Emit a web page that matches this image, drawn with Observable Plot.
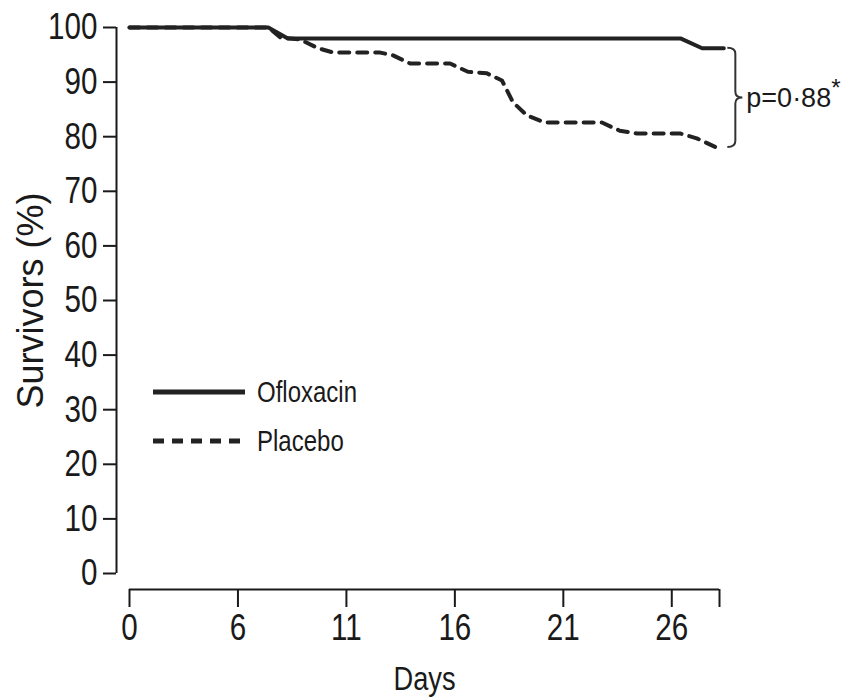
<!DOCTYPE html>
<html><head><meta charset="utf-8">
<script src="https://cdn.jsdelivr.net/npm/d3@7"></script>
<script src="https://cdn.jsdelivr.net/npm/@observablehq/plot@0.6"></script>
<style>
body{margin:0;background:#fff;}
#wrap{position:relative;width:843px;height:698px;overflow:hidden;}
.lg{position:absolute;font-family:'Liberation Sans',Arial,sans-serif;font-size:30px;color:#1a1a1a;line-height:1;transform:scaleX(0.8);transform-origin:0 50%;white-space:nowrap;}
</style></head><body><div id="wrap"></div>
<script>
// Data
const seriesNames = ["Ofloxacin", "Placebo"];
const oflDays = [1, 7.4, 8.3, 26.4, 27.4, 28.4];
const oflSurv = [100, 100, 98, 98, 96.2, 96.2];
const plaDays = [1, 7.4, 7.95, 8.87, 9.7, 10.4, 12.56, 13.15, 13.94, 15.78, 16.6, 17.48, 18.17, 18.68, 19.32, 20.15, 22.78, 23.6, 24.4, 26.37, 27.15, 28.07];
const plaSurv = [100, 100, 98.2, 97.8, 96.2, 95.4, 95.4, 94.9, 93.4, 93.4, 91.9, 91.6, 90.3, 86.3, 83.9, 82.6, 82.6, 81.1, 80.6, 80.6, 79.7, 78.0];
const xTickPos = [1, 6, 11, 16, 21, 26, 28.2];
const xTickLabels = ["0", "6", "11", "16", "21", "26", ""];
const yTicks = [0, 10, 20, 30, 40, 50, 60, 70, 80, 90, 100];
const yTitle = "Survivors (%)";
const xTitle = "Days";
const pLabel = "p=0·88";
const pStar = "*";

const REG = "'Liberation Sans',Arial,sans-serif";
const INK = "#1a1a1a";
const SQUEEZE = 0.8;

const ofl = oflDays.map((d, i) => ({day: d, surv: oflSurv[i], s: seriesNames[0]}));
const pla = plaDays.map((d, i) => ({day: d, surv: plaSurv[i], s: seriesNames[1]}));

function braceMark(index, scales, values, dims) {
  const ns = "http://www.w3.org/2000/svg";
  const g = document.createElementNS(ns, "g");
  const x0 = scales.x(oflDays[oflDays.length - 1]) + 4;
  const yT = scales.y(oflSurv[oflSurv.length - 1]);
  const yB = scales.y(plaSurv[plaSurv.length - 1]);
  const ym = (yT + yB) / 2;
  const xs = x0 + 8, xt = xs + 7, r = 6;
  const p = document.createElementNS(ns, "path");
  p.setAttribute("d", `M${x0},${yT} Q${xs},${yT} ${xs},${yT + r} L${xs},${ym - r} Q${xs},${ym} ${xt},${ym} Q${xs},${ym} ${xs},${ym + r} L${xs},${yB - r} Q${xs},${yB} ${x0},${yB}`);
  p.setAttribute("fill", "none");
  p.setAttribute("stroke", "#333");
  p.setAttribute("stroke-width", 2);
  g.appendChild(p);
  const t = document.createElementNS(ns, "text");
  t.setAttribute("x", xt + 4);
  t.setAttribute("y", ym);
  t.setAttribute("dy", "0.35em");
  t.setAttribute("text-anchor", "start");
  t.setAttribute("font-family", REG);
  t.setAttribute("font-size", 27);
  t.setAttribute("fill", INK);
  t.textContent = pLabel;
  const s = document.createElementNS(ns, "tspan");
  s.setAttribute("dy", "-0.45em");
  s.setAttribute("font-size", 24);
  s.textContent = pStar;
  t.appendChild(s);
  g.appendChild(t);
  return g;
}

const plot = Plot.plot({
  width: 843, height: 698,
  marginLeft: 129, marginRight: 124, marginTop: 27, marginBottom: 125,
  x: {domain: [1, 28.2]},
  y: {domain: [0, 100]},
  style: {fontFamily: REG, fontSize: "36px", color: INK, background: "white"},
  marks: [
    Plot.ruleX([1], {y1: 0, y2: 100, dx: -13, stroke: INK, strokeWidth: 2}),
    Plot.axisY({ticks: yTicks, tickSize: 13, dx: -13, tickPadding: 6, label: null, fontSize: 37, strokeWidth: 2}),
    Plot.ruleY([0], {x1: 1, x2: 28.2, dy: 16, stroke: INK, strokeWidth: 2}),
    Plot.axisX({ticks: xTickPos, tickFormat: d => xTickLabels[xTickPos.indexOf(d)], tickSize: 18, dy: 16, tickPadding: 6, label: null, fontSize: 37, strokeWidth: 2}),
    Plot.text([yTitle], {frameAnchor: "left", textAnchor: "middle", lineAnchor: "middle", dx: -98, rotate: -90, fontSize: 36, fill: INK}),
    Plot.text([xTitle], {frameAnchor: "bottom", textAnchor: "middle", lineAnchor: "middle", dy: 106, fontSize: 34, fill: INK}),
    Plot.line(pla, {x: "day", y: "surv", stroke: "#222", strokeWidth: 4, strokeDasharray: "10,8"}),
    Plot.line(ofl, {x: "day", y: "surv", stroke: "#222", strokeWidth: 4}),
    braceMark
  ]
});

// horizontally condense axis tick labels (the reference uses a narrow face)
plot.querySelectorAll('g[aria-label="y-axis tick label"] text, g[aria-label="x-axis tick label"] text').forEach(el => {
  const tr = el.getAttribute("transform") || "";
  if (el.hasAttribute("x") || el.hasAttribute("y")) {
    const x = +el.getAttribute("x") || 0, y = +el.getAttribute("y") || 0;
    el.setAttribute("transform", `${tr} translate(${x},${y}) scale(${SQUEEZE},1) translate(${-x},${-y})`);
  } else {
    el.setAttribute("transform", `${tr} scale(${SQUEEZE},1)`);
  }
});

const wrap = document.getElementById("wrap");
wrap.appendChild(plot);

// condense the x title too
plot.querySelectorAll("text").forEach(el => {
  if (el.textContent === xTitle) {
    const len = el.getComputedTextLength();
    el.setAttribute("textLength", (len * SQUEEZE).toFixed(1));
    el.setAttribute("lengthAdjust", "spacingAndGlyphs");
  }
});

// legend overlay
function addLegend(name, top, dashed) {
  const sw = document.createElementNS("http://www.w3.org/2000/svg", "svg");
  sw.setAttribute("width", 94); sw.setAttribute("height", 8);
  sw.style.position = "absolute"; sw.style.left = "152px"; sw.style.top = (top - 4) + "px";
  const ln = document.createElementNS("http://www.w3.org/2000/svg", "line");
  ln.setAttribute("x1", 1); ln.setAttribute("x2", 93); ln.setAttribute("y1", 4); ln.setAttribute("y2", 4);
  ln.setAttribute("stroke", "#222"); ln.setAttribute("stroke-width", 5);
  if (dashed) ln.setAttribute("stroke-dasharray", "11,8");
  sw.appendChild(ln);
  wrap.appendChild(sw);
  const d = document.createElement("div");
  d.className = "lg"; d.textContent = name;
  d.style.left = "257px"; d.style.top = (top - 15) + "px";
  wrap.appendChild(d);
}
addLegend(seriesNames[0], 392, false);
addLegend(seriesNames[1], 441, true);
</script></body></html>
